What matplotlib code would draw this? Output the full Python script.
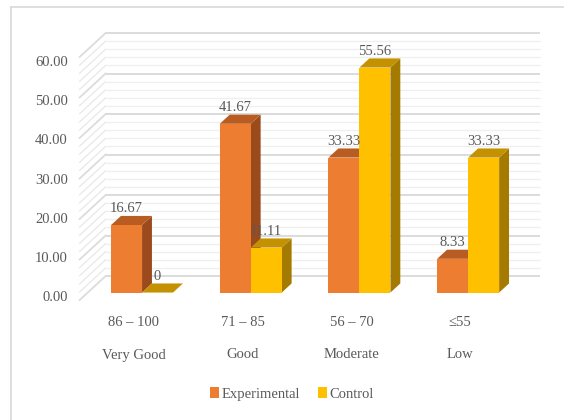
import matplotlib
matplotlib.use("Agg")
import matplotlib.pyplot as plt
from matplotlib.patches import Polygon, Patch
from matplotlib.lines import Line2D

# ---- data ----
ranges = ["86 \u2013 100", "71 \u2013 85", "56 \u2013 70", "\u226455"]
names = ["Very Good", "Good", "Moderate", "Low"]
series_names = ["Experimental", "Control"]
experimental = [16.67, 41.67, 33.33, 8.33]
control = [0, 11.11, 55.56, 33.33]
exp_labels = ["16.67", "41.67", "33.33", "8.33"]
ctrl_labels = ["0", "11.11", "55.56", "33.33"]
yticks = [0, 10, 20, 30, 40, 50, 60]

# ---- style ----
W, H = 564, 420
PX_CAT = 108.7     # pixels per category
PX_VAL = 4.05      # pixels per value unit
X0_PX = 134        # pixel x of category 0 (front plane)
Y0_PX = 300        # pixel y of value 0 (front plane)
DX = 26 / PX_CAT   # wall depth in category units
DV = 24 / PX_VAL   # wall depth in value units
BAR_W = 0.285
D_FRONT, D_BACK = 0.31, 0.69

colors = {
    "Experimental": ("#ED7D31", "#B95C22", "#9B4A1B"),
    "Control": ("#FFC000", "#C49200", "#A57A00"),
}
text_color = "#595959"
font = "Liberation Serif"

fig = plt.figure(figsize=(W / 100, H / 100), dpi=100)
ax = fig.add_axes([0, 0, 1, 1])
ax.set_xlim((0 - X0_PX) / PX_CAT, (W - X0_PX) / PX_CAT)
ax.set_ylim((Y0_PX - H) / PX_VAL, Y0_PX / PX_VAL)
ax.axis("off")

# chart border
fig.add_artist(Line2D([10.5 / W, 1], [1 - 7 / H, 1 - 7 / H], color="#D9D9D9", lw=1.2,
                      transform=fig.transFigure))
fig.add_artist(Line2D([10.5 / W, 10.5 / W], [0, 1 - 7 / H], color="#D9D9D9", lw=1.2,
                      transform=fig.transFigure))

# gridlines: back wall and left wall
xl, xr = -0.5, 3.5
for v in range(0, 61, 2):
    major = v % 10 == 0
    c_back = "#D9D9D9" if major else "#EFEFEF"
    c_side = "#DCDCDC" if major else "#E8E8E8"
    lw = 1.3 if major else 0.9
    ax.plot([xl + DX, xr + DX], [v + DV, v + DV], color=c_back, lw=lw, zorder=1,
            solid_capstyle="butt")
    ax.plot([xl, xl + DX], [v, v + DV], color=c_side, lw=lw, zorder=1)

# y tick labels
for v in yticks:
    ax.text(xl - 0.11, v * 0.97 + 0.5, f"{v:.2f}", ha="right", va="center",
            fontsize=10.5, color=text_color, family=font)

# bars
def draw_bar(x_left, val, cols, z):
    front, top, side = cols
    fx0, fx1 = x_left + D_FRONT * DX, x_left + BAR_W + D_FRONT * DX
    fy0, fy1 = D_FRONT * DV, val + D_FRONT * DV
    ddx, ddv = (D_BACK - D_FRONT) * DX, (D_BACK - D_FRONT) * DV
    ax.add_patch(Polygon([(fx1, fy0), (fx1 + ddx, fy0 + ddv), (fx1 + ddx, fy1 + ddv), (fx1, fy1)],
                         closed=True, facecolor=side, edgecolor="none", zorder=z))
    ax.add_patch(Polygon([(fx0, fy1), (fx1, fy1), (fx1 + ddx, fy1 + ddv), (fx0 + ddx, fy1 + ddv)],
                         closed=True, facecolor=top, edgecolor="none", zorder=z + 0.1))
    if val > 0:
        ax.add_patch(Polygon([(fx0, fy0), (fx1, fy0), (fx1, fy1), (fx0, fy1)],
                             closed=True, facecolor=front, edgecolor="none", zorder=z + 0.2))
    return (fx0 + fx1) / 2, fy1 + ddv

for i in range(len(ranges)):
    z = 2 + i
    cx, ty = draw_bar(i - BAR_W, experimental[i], colors["Experimental"], z)
    ax.text(cx, ty + 0.2, exp_labels[i], ha="center", va="bottom", fontsize=10.5,
            color=text_color, family=font, zorder=20)
    cx, ty = draw_bar(i, control[i], colors["Control"], z + 0.5)
    ax.text(cx, ty + 0.2, ctrl_labels[i], ha="center", va="bottom", fontsize=10.5,
            color=text_color, family=font, zorder=20)

# category labels
for i in range(len(ranges)):
    ax.text(i, (Y0_PX - 323) / PX_VAL, ranges[i], ha="center", va="center",
            fontsize=10.5, color=text_color, family=font)
    ax.text(i, (Y0_PX - 355) / PX_VAL, names[i], ha="center", va="center",
            fontsize=10.5, color=text_color, family=font)

# legend
handles = [Patch(facecolor=colors[s][0], edgecolor="none", label=s) for s in series_names]
leg = ax.legend(handles=handles, loc="center", bbox_to_anchor=(292 / W, 1 - 394 / H),
                ncol=2, frameon=False, handlelength=0.6, handleheight=0.8,
                handletextpad=0.2, columnspacing=1.2,
                prop={"family": font, "size": 10.5})
for t in leg.get_texts():
    t.set_color(text_color)

fig.savefig("out.png", dpi=100)
